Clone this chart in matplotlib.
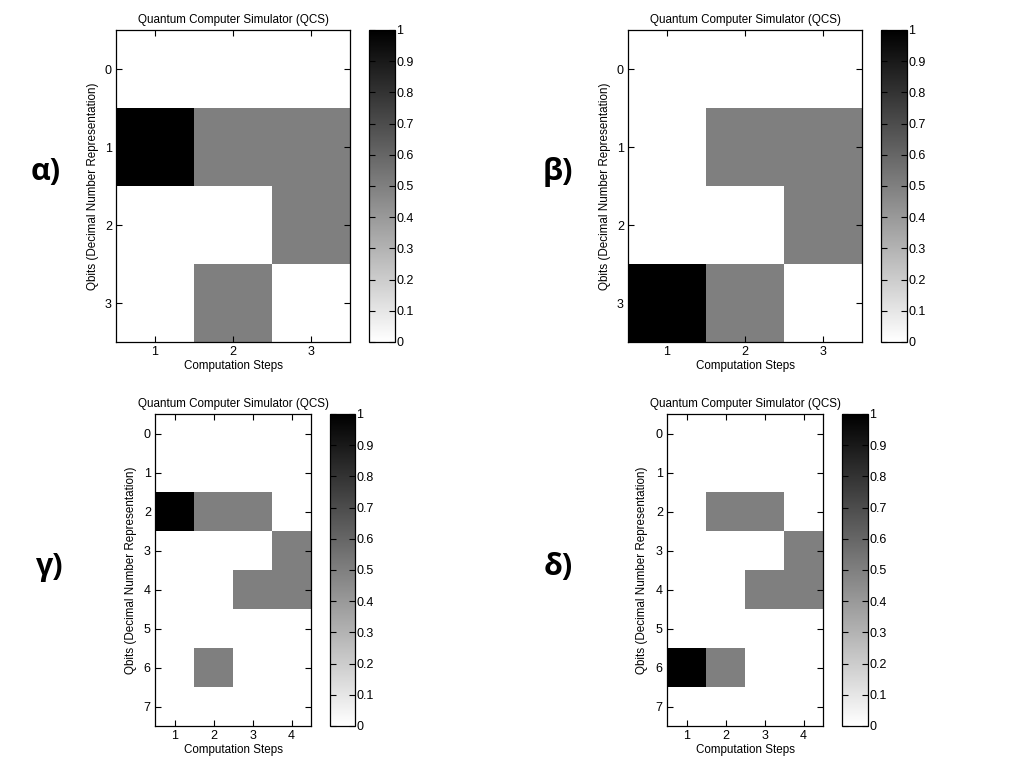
import numpy as np
import matplotlib.pyplot as plt
from matplotlib.ticker import FormatStrFormatter

plt.switch_backend("Agg")
plt.rcParams["font.family"] = ["Liberation Sans", "DejaVu Sans"]

# state probabilities: rows = qbit states, columns = computation steps
alpha_data = [
    [0, 0, 0],
    [1, 0.5, 0.5],
    [0, 0, 0.5],
    [0, 0.5, 0],
]
beta_data = [
    [0, 0, 0],
    [0, 0.5, 0.5],
    [0, 0, 0.5],
    [1, 0.5, 0],
]
gamma_data = [
    [0, 0, 0, 0],
    [0, 0, 0, 0],
    [1, 0.5, 0.5, 0],
    [0, 0, 0, 0.5],
    [0, 0, 0.5, 0.5],
    [0, 0, 0, 0],
    [0, 0.5, 0, 0],
    [0, 0, 0, 0],
]
delta_data = [
    [0, 0, 0, 0],
    [0, 0, 0, 0],
    [0, 0.5, 0.5, 0],
    [0, 0, 0, 0.5],
    [0, 0, 0.5, 0.5],
    [0, 0, 0, 0],
    [1, 0.5, 0, 0],
    [0, 0, 0, 0],
]
panel_labels = ["α)", "β)", "γ)", "δ)"]
cbar_ticks = [0, 0.1, 0.2, 0.3, 0.4, 0.5, 0.6, 0.7, 0.8, 0.9, 1]

W, H = 1024, 768
fig = plt.figure(figsize=(W / 100, H / 100), dpi=100)


def px_rect(x0, y0, x1, y1):
    return [x0 / W, 1 - y1 / H, (x1 - x0) / W, (y1 - y0) / H]


# (axes box, colorbar box, panel label position, ylabel right edge) in pixels
layout = [
    ((116, 30, 350, 342), (369, 30, 395, 342), (46, 172), 99),
    ((628, 30, 862, 342), (881, 30, 907, 342), (558, 172), 611),
    ((155, 414, 311, 726), (330, 414, 355, 726), (50, 567), 137),
    ((667, 414, 823, 726), (842, 414, 868, 726), (558, 567), 648),
]

for data, label, (abox, cbox, lpos, ylx) in zip(
    [alpha_data, beta_data, gamma_data, delta_data], panel_labels, layout
):
    arr = np.array(data, dtype=float)
    nrows, ncols = arr.shape
    ax = fig.add_axes(px_rect(*abox))
    im = ax.imshow(
        arr,
        cmap="gray_r",
        vmin=0,
        vmax=1,
        aspect="auto",
        interpolation="nearest",
        extent=[0.5, ncols + 0.5, nrows - 0.5, -0.5],
    )
    ax.set_xticks(range(1, ncols + 1))
    ax.set_yticks(range(nrows))
    ax.tick_params(direction="in", top=True, right=True, length=4,
                   labelsize=9, width=0.8, pad=3)
    for s in ax.spines.values():
        s.set_linewidth(0.9)
    ax.set_title("Quantum Computer Simulator (QCS)", fontsize=8.4, pad=5)
    ax.set_xlabel("Computation Steps", fontsize=8.4, labelpad=1)
    ax.set_ylabel("Qbits (Decimal Number Representation)", fontsize=8.4)
    ax.yaxis.set_label_coords((ylx - abox[0]) / (abox[2] - abox[0]), 0.5)

    cax = fig.add_axes(px_rect(*cbox))
    cb = fig.colorbar(im, cax=cax, ticks=cbar_ticks)
    cb.outline.set_linewidth(0.9)
    cax.yaxis.set_major_formatter(FormatStrFormatter("%g"))
    cax.tick_params(direction="in", left=True, right=True, length=4,
                    labelsize=9, width=0.8, pad=1)

    fig.text(lpos[0] / W, 1 - lpos[1] / H, label, fontsize=22,
             fontweight="bold", family=["Open Sans", "DejaVu Sans"],
             ha="center", va="center")

fig.savefig("out.png", dpi=100)
